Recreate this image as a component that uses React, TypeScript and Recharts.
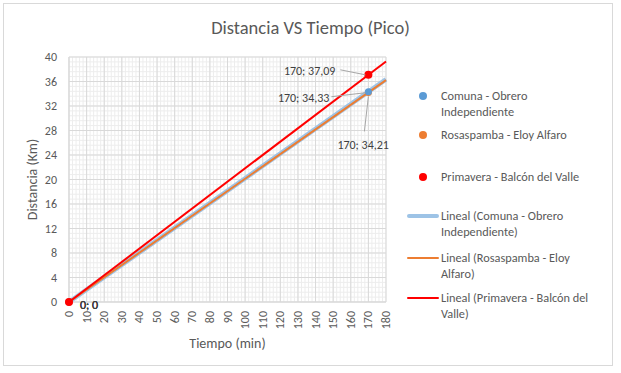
import React from 'react';
import { ScatterChart, Scatter, XAxis, YAxis, CartesianGrid } from 'recharts';

const chartTitle = 'Distancia VS Tiempo (Pico)';
const xAxisTitle = 'Tiempo (min)';
const yAxisTitle = 'Distancia (Km)';

const seriesNames = ['Comuna - Obrero Independiente', 'Rosaspamba - Eloy Alfaro', 'Primavera - Balcón del Valle'];
const trendNames = ['Lineal (Comuna - Obrero Independiente)', 'Lineal (Rosaspamba - Eloy Alfaro)', 'Lineal (Primavera - Balcón del Valle)'];

const timeValues = [0, 170];
const comunaValues = [0, 34.33];
const rosaspambaValues = [0, 34.21];
const primaveraValues = [0, 37.09];

const trendTimes = [0, 180];
const comunaTrend = [0, 36.35];
const rosaspambaTrend = [0, 36.22];
const primaveraTrend = [0, 39.27];

const xTicks = [0, 10, 20, 30, 40, 50, 60, 70, 80, 90, 100, 110, 120, 130, 140, 150, 160, 170, 180];
const yTicks = [0, 4, 8, 12, 16, 20, 24, 28, 32, 36, 40];
const xMinorStep = 2;
const yMinorStep = 0.8;
const xMinorTicks = Array.from({ length: 180 / xMinorStep + 1 }, (_, i) => i * xMinorStep);
const yMinorTicks = Array.from({ length: Math.round(40 / yMinorStep) + 1 }, (_, i) => +(i * yMinorStep).toFixed(2));

const toPoints = (xs: number[], ys: number[]) => xs.map((x, i) => ({ x, y: ys[i] }));

const FONT = 'Carlito, Calibri, Lato, sans-serif';
const TEXT = '#595959';
const LABEL = '#404040';
const LEADER = '#A6A6A6';

const colors = {
  comuna: '#5B9BD5',
  comunaTrend: '#9DC3E6',
  rosaspamba: '#ED7D31',
  primavera: '#FF0000',
};

const fmt = (x: number, y: number) => `${x}; ${String(y).replace('.', ',')}`;

type LabelPlace = { dx: number; dy: number; anchor: 'start' | 'end'; leader: number[] };

const makeShape = (color: string, r: number, place: LabelPlace) => (props: any) => {
  const { cx, cy, payload } = props;
  if (cx == null || cy == null) return <g />;
  const isOrigin = payload.x === 0;
  return (
    <g>
      <circle cx={cx} cy={cy} r={r} fill={color} />
      {isOrigin ? (
        <text x={cx + 11} y={cy + 3} dominantBaseline="central" fontSize={12} fill={LABEL} fontFamily={FONT}>
          {fmt(payload.x, payload.y)}
        </text>
      ) : (
        <g>
          <polyline
            points={`${cx + place.leader[0]},${cy + place.leader[1]} ${cx + place.leader[2]},${cy + place.leader[3]}`}
            fill="none"
            stroke={LEADER}
            strokeWidth={1}
          />
          <text
            x={cx + place.dx}
            y={cy + place.dy}
            textAnchor={place.anchor}
            dominantBaseline="central"
            fontSize={12}
            fill={LABEL}
            fontFamily={FONT}
          >
            {fmt(payload.x, payload.y)}
          </text>
        </g>
      )}
    </g>
  );
};

const noShape = () => <g />;

const XTick = (props: any) => {
  const { x, y, payload } = props;
  const ay = y + 1;
  return (
    <text
      x={x}
      y={ay}
      transform={`rotate(-90, ${x}, ${ay})`}
      textAnchor="end"
      dominantBaseline="central"
      fontSize={12}
      fill={TEXT}
      fontFamily={FONT}
    >
      {payload.value}
    </text>
  );
};

const YTick = (props: any) => {
  const { x, y, payload } = props;
  return (
    <text x={x - 4} y={y} textAnchor="end" dominantBaseline="central" fontSize={12} fill={TEXT} fontFamily={FONT}>
      {payload.value}
    </text>
  );
};

const legendItems = [
  { kind: 'dot', color: colors.comuna, lines: ['Comuna - Obrero', 'Independiente'], top: 88 },
  { kind: 'dot', color: colors.rosaspamba, lines: ['Rosaspamba - Eloy Alfaro'], top: 127 },
  { kind: 'dot', color: colors.primavera, lines: ['Primavera - Balcón del Valle'], top: 169 },
  { kind: 'line', color: colors.comunaTrend, width: 4, lines: ['Lineal (Comuna - Obrero', 'Independiente)'], top: 208 },
  { kind: 'line', color: colors.rosaspamba, width: 2, lines: ['Lineal (Rosaspamba - Eloy', 'Alfaro)'], top: 250 },
  { kind: 'line', color: colors.primavera, width: 2, lines: ['Lineal (Primavera - Balcón del', 'Valle)'], top: 290 },
];

const xDomain: [number, number] = [0, 180];
const yDomain: [number, number] = [0, 40];

const minorVertical = (args: any) => {
  const { xAxis, offset } = args;
  const scale = xAxis && xAxis.scale;
  return xMinorTicks.map((t) =>
    typeof scale === 'function' ? scale(t) : offset.left + ((t - xDomain[0]) / (xDomain[1] - xDomain[0])) * offset.width
  );
};

const minorHorizontal = (args: any) => {
  const { yAxis, offset } = args;
  const scale = yAxis && yAxis.scale;
  return yMinorTicks.map((t) =>
    typeof scale === 'function'
      ? scale(t)
      : offset.top + offset.height - ((t - yDomain[0]) / (yDomain[1] - yDomain[0])) * offset.height
  );
};

export default function App() {
  const comunaPts = toPoints(timeValues, comunaValues);
  const rosaPts = toPoints(timeValues, rosaspambaValues);
  const primPts = toPoints(timeValues, primaveraValues);
  const comunaTrendPts = toPoints(trendTimes, comunaTrend);
  const rosaTrendPts = toPoints(trendTimes, rosaspambaTrend);
  const primTrendPts = toPoints(trendTimes, primaveraTrend);

  return (
    <div style={{ position: 'absolute', left: 0, top: 0, width: 621, height: 373, background: '#fff', fontFamily: FONT }}>
      <div
        style={{
          position: 'absolute',
          left: 3,
          top: 3,
          width: 610,
          height: 363,
          border: '1px solid #D9D9D9',
          boxSizing: 'border-box',
        }}
      />
      <div
        style={{
          position: 'absolute',
          left: 0,
          width: 621,
          top: 15,
          textAlign: 'center',
          fontSize: 18.5,
          color: TEXT,
          lineHeight: '26px',
        }}
      >
        {chartTitle}
      </div>
      <div style={{ position: 'absolute', left: 0, top: 0 }}>
        <ScatterChart width={621} height={373} margin={{ top: 57, right: 235, bottom: 0, left: 0 }}>
          <CartesianGrid
            stroke="#EDEDED"
            strokeWidth={1}
            verticalCoordinatesGenerator={minorVertical}
            horizontalCoordinatesGenerator={minorHorizontal}
          />
          <XAxis
            type="number"
            dataKey="x"
            domain={xDomain}
            ticks={xTicks}
            interval={0}
            height={71}
            axisLine={{ stroke: '#D9D9D9' }}
            tickLine={false}
            tick={<XTick />}
            label={{ value: xAxisTitle, position: 'insideBottom', offset: 25, fill: TEXT, fontSize: 14, fontFamily: FONT }}
          />
          <YAxis
            type="number"
            dataKey="y"
            domain={yDomain}
            ticks={yTicks}
            interval={0}
            width={69}
            axisLine={{ stroke: '#D9D9D9' }}
            tickLine={false}
            tick={<YTick />}
            label={{ value: yAxisTitle, angle: -90, position: 'center', dx: -2, fill: TEXT, fontSize: 14, fontFamily: FONT }}
          />
          <CartesianGrid stroke="#D9D9D9" strokeWidth={1} />
          <Scatter
            name={trendNames[0]}
            data={comunaTrendPts}
            line={{ stroke: colors.comunaTrend, strokeWidth: 4.5 }}
            lineType="joint"
            shape={noShape}
            isAnimationActive={false}
          />
          <Scatter
            name={trendNames[1]}
            data={rosaTrendPts}
            line={{ stroke: colors.rosaspamba, strokeWidth: 2 }}
            lineType="joint"
            shape={noShape}
            isAnimationActive={false}
          />
          <Scatter
            name={trendNames[2]}
            data={primTrendPts}
            line={{ stroke: colors.primavera, strokeWidth: 2 }}
            lineType="joint"
            shape={noShape}
            isAnimationActive={false}
          />
          <Scatter
            name={seriesNames[1]}
            data={rosaPts}
            shape={makeShape(colors.rosaspamba, 3.5, { dx: -31, dy: 53, anchor: 'start', leader: [-4, 39, 0, 4] })}
            isAnimationActive={false}
          />
          <Scatter
            name={seriesNames[0]}
            data={comunaPts}
            shape={makeShape(colors.comuna, 3.5, { dx: -39, dy: 6, anchor: 'end', leader: [-37, 5, -3, 1] })}
            isAnimationActive={false}
          />
          <Scatter
            name={seriesNames[2]}
            data={primPts}
            shape={makeShape(colors.primavera, 4, { dx: -33, dy: -4, anchor: 'end', leader: [-28, -5, -3, 0] })}
            isAnimationActive={false}
          />
        </ScatterChart>
      </div>
      {legendItems.map((item, i) => (
        <div key={i} style={{ position: 'absolute', left: 405, top: item.top, width: 200 }}>
          {item.kind === 'dot' ? (
            <div
              style={{
                position: 'absolute',
                left: 14,
                top: 4,
                width: 8,
                height: 8,
                borderRadius: 4,
                background: item.color,
              }}
            />
          ) : (
            <div
              style={{
                position: 'absolute',
                left: 2,
                top: 8 - (item.width as number) / 2,
                width: 32,
                height: item.width,
                borderRadius: 2,
                background: item.color,
              }}
            />
          )}
          <div style={{ marginLeft: 36, fontSize: 12.3, lineHeight: '16px', color: TEXT }}>
            {item.lines.map((l, j) => (
              <div key={j}>{l}</div>
            ))}
          </div>
        </div>
      ))}
    </div>
  );
}
